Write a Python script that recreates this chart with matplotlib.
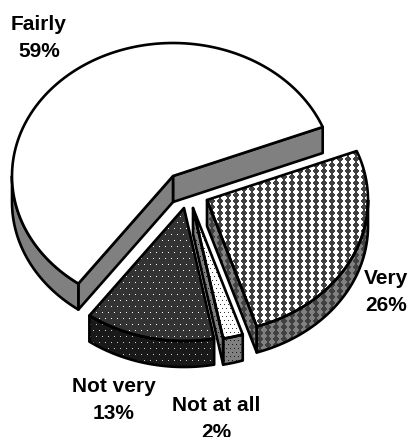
import numpy as np
import matplotlib
matplotlib.use('Agg')
import matplotlib.pyplot as plt
from matplotlib.patches import Polygon

labels = ['Fairly', 'Not very', 'Not at all', 'Very']
values = [59, 13, 2, 26]
start_angle = 21.6

W, H = 410, 437
rx, ry = 161, 133
depth = 26
# where each slice's apex ended up after exploding
apex = {'Fairly': (173, 176), 'Not very': (184, 208), 'Not at all': (193, 208), 'Very': (207, 200)}
label_pos = {'Fairly': (39, 38), 'Not very': (114, 400), 'Not at all': (216, 419), 'Very': (386, 292)}


def tile_image(tile):
    reps = (H // tile.shape[0] + 1, W // tile.shape[1] + 1)
    return np.tile(tile, reps)[:H, :W]


def crosses(light, dark):
    # dark blobs, 8px across and 6px down
    widths = [2, 4, 6, 6, 4, 2]
    tile = np.full((6, 8), light, dtype=float)
    for row, w in enumerate(widths):
        tile[row, 4 - w // 2:4 + w // 2] = dark
    return tile


def dots(bg, fg, period=6):
    # single pixel dots, every other row shifted by half a period
    tile = np.full((2 * period, period), bg, dtype=float)
    tile[0, 0] = fg
    tile[period, period // 2] = fg
    return tile


def fill(ax, pts, tile=None, gray=1.0, lw=1.9):
    pts = np.array(pts)
    if tile is None:
        ax.add_patch(Polygon(pts, closed=True, facecolor=str(gray), edgecolor='none'))
    else:
        im = ax.imshow(tile_image(tile), cmap='gray', vmin=0, vmax=1, extent=(0, W, H, 0),
                       interpolation='nearest', aspect='auto')
        clip = Polygon(pts, closed=True, transform=ax.transData)
        im.set_clip_path(clip)
    ax.add_patch(Polygon(pts, closed=True, fill=False, edgecolor='black', linewidth=lw, joinstyle='round'))


def arc_pts(c, t0, t1, dy=0):
    t = np.radians(np.linspace(t0, t1, 120))
    return np.column_stack([c[0] + rx * np.cos(t), c[1] - ry * np.sin(t) + dy])


def draw_slice(ax, name, t0, t1, top, side, show_start=False, show_end=False):
    c = apex[name]
    # cut faces hanging below the top surface
    if show_start:
        p = arc_pts(c, t0, t0)[0]
        fill(ax, [c, p, (p[0], p[1] + depth), (c[0], c[1] + depth)], side[0], side[1])
    if show_end:
        p = arc_pts(c, t1, t1)[0]
        fill(ax, [c, p, (p[0], p[1] + depth), (c[0], c[1] + depth)], side[0], side[1])
    # outer rim, only the part facing the viewer
    a = max(t0, 180)
    b = min(t1, 360)
    if b > a:
        upper = arc_pts(c, a, b)
        lower = arc_pts(c, b, a, depth)
        fill(ax, np.vstack([upper, lower]), side[0], side[1])
    wedge = np.vstack([[c], arc_pts(c, t0, t1)])
    fill(ax, wedge, top[0], top[1])


fig = plt.figure(figsize=(W / 100, H / 100), dpi=100)
ax = fig.add_axes([0, 0, 1, 1])

fracs = np.array(values) / sum(values) * 360
edges = start_angle + np.concatenate([[0], np.cumsum(fracs)])

styles = {
    'Fairly': dict(top=(None, 1.0), side=(None, 0.5), show_start=True, show_end=True),
    'Not very': dict(top=(dots(0.2, 1.0), 0), side=(dots(0.1, 0.8), 0)),
    'Not at all': dict(top=(dots(1.0, 0.2, 4), 0), side=(dots(0.5, 0.1, 4), 0), show_start=True),
    'Very': dict(top=(crosses(1.0, 0.25), 0), side=(crosses(0.5, 0.25), 0), show_start=True),
}

for i in [0, 3, 2, 1]:
    name = labels[i]
    draw_slice(ax, name, edges[i], edges[i + 1], **styles[name])

for i, name in enumerate(labels):
    x, y = label_pos[name]
    ax.text(x, y, f'{name}\n{values[i]}%', ha='center', va='center', fontsize=15,
            fontweight='bold', family=['Liberation Sans', 'DejaVu Sans'], linespacing=1.55, color='black')

ax.set_xlim(0, W)
ax.set_ylim(H, 0)
ax.axis('off')
fig.savefig('out.png', dpi=100, facecolor='white')
